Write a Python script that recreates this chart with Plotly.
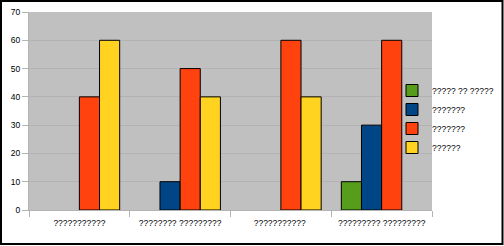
import plotly.graph_objects as go

categories = ["???????????", "???????? ?????????", "??????????? ", "????????? ?????????"]
series_names = ["????? ?? ?????", "???????", "??????? ", "??????"]
s1 = [None, None, None, 10]
s2 = [None, 10, None, 30]
s3 = [40, 50, 60, 60]
s4 = [60, 40, 40, None]
colors = ["#579D1C", "#004586", "#FF420E", "#FFD320"]

W, H = 504, 246
ml, mr, mt, mb = 29, 72, 12, 36
pw, ph = W - ml - mr, H - mt - mb

fig = go.Figure()
for name, vals, c in zip(series_names, [s1, s2, s3, s4], colors):
    fig.add_trace(go.Bar(x=categories, y=vals, name=name,
                         marker=dict(color=c, line=dict(color="black", width=1))))

def px_x(p):
    return (p - ml) / pw

def px_y(p):
    return 1 - (p - mt) / ph

font = dict(family="Liberation Sans, Arial, sans-serif", size=8.5, color="black")

fig.update_layout(
    width=W, height=H,
    margin=dict(l=ml, r=mr, t=mt, b=mb, autoexpand=False),
    paper_bgcolor="white", plot_bgcolor="#C0C0C0",
    barmode="group", bargap=0.2, bargroupgap=0,
    font=font,
    showlegend=True,
    legend=dict(x=px_x(392), y=px_y(119), xanchor="left", yanchor="middle",
                bgcolor="rgba(0,0,0,0)", font=dict(size=8.5),
                tracegroupgap=0, itemwidth=30),
    xaxis=dict(type="category", tickson="boundaries", ticks="outside", ticklen=6,
               tickcolor="#b3b3b3", showgrid=False, showline=True, linecolor="#b3b3b3",
               linewidth=1, tickfont=font, ticklabelstandoff=5, automargin=False),
    yaxis=dict(range=[0, 70], dtick=10, ticks="outside", ticklen=6, tickcolor="#b3b3b3",
               showgrid=True, gridcolor="#b3b3b3", gridwidth=1, showline=True,
               linecolor="#b3b3b3", zeroline=False, tickfont=font, automargin=False),
    shapes=[dict(type="rect", xref="paper", yref="paper",
                 x0=px_x(1), x1=px_x(502.5), y0=px_y(1), y1=px_y(244),
                 line=dict(color="black", width=2), fillcolor="rgba(0,0,0,0)", layer="above")],
)

fig.write_html("out.html")
